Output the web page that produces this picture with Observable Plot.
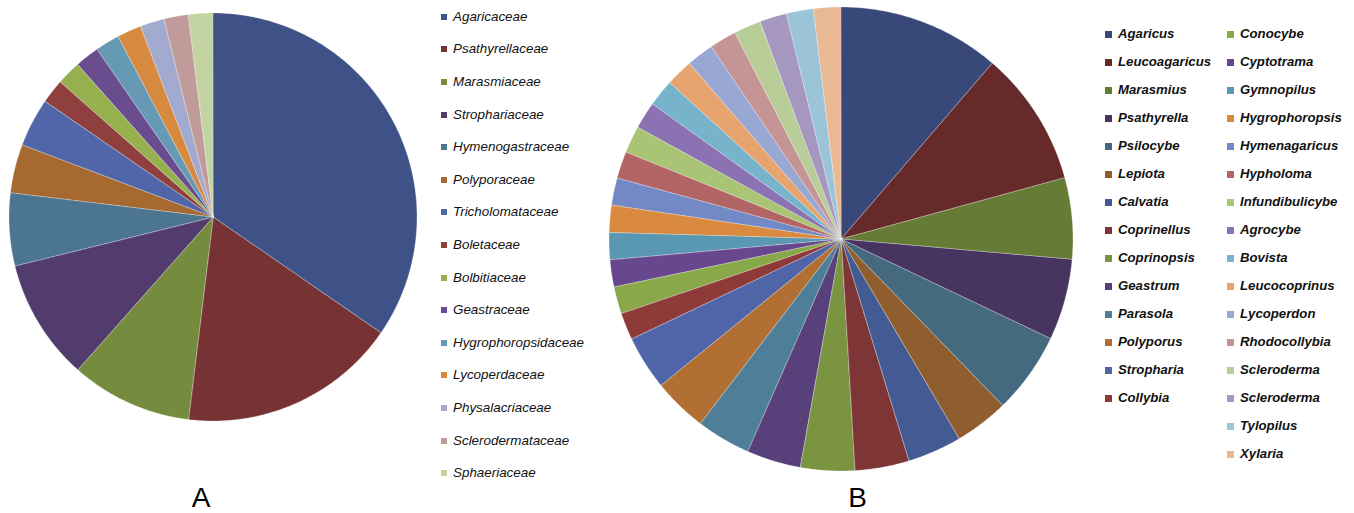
<!DOCTYPE html>
<html><head><meta charset="utf-8">
<script src="https://cdn.jsdelivr.net/npm/d3@7"></script>
<script src="https://cdn.jsdelivr.net/npm/@observablehq/plot@0.6"></script>
<style>
body{margin:0;background:#fff;}
#root{position:relative;width:1354px;height:513px;overflow:hidden;background:#fff;font-family:"Liberation Sans",Arial,sans-serif;}
.pie{position:absolute;}
.row{position:absolute;display:flex;align-items:center;white-space:nowrap;height:16px;line-height:16px;}
.sw{display:inline-block;flex:none;}
.legA{font-style:italic;font-size:13.4px;color:#111;}
.legB{font-style:italic;font-weight:bold;font-size:13.2px;color:#111;}
.lab{position:absolute;font-size:28px;line-height:28px;color:#000;transform:translateX(-50%);}
</style></head><body><div id="root"></div>
<script>
// Panel A: families
const familiesA = ["Agaricaceae","Psathyrellaceae","Marasmiaceae","Strophariaceae","Hymenogastraceae","Polyporaceae","Tricholomataceae","Boletaceae","Bolbitiaceae","Geastraceae","Hygrophoropsidaceae","Lycoperdaceae","Physalacriaceae","Sclerodermataceae","Sphaeriaceae"];
const countsA = [18,9,5,5,3,2,2,1,1,1,1,1,1,1,1];
const colorsA = ["#3f5287","#773334","#758b3d","#523c6e","#4b7590","#a6692f","#5066a8","#8f3f3d","#97b04f","#6a4d8e","#6599b4","#d58a40","#a2aacf","#c09b9a","#c3d4a2"];

// Panel B: genera
const generaB = ["Agaricus","Leucoagaricus","Marasmius","Psathyrella","Psilocybe","Lepiota","Calvatia","Coprinellus","Coprinopsis","Geastrum","Parasola","Polyporus","Stropharia","Collybia","Conocybe","Cyptotrama","Gymnopilus","Hygrophoropsis","Hymenagaricus","Hypholoma","Infundibulicybe","Agrocybe","Bovista","Leucocoprinus","Lycoperdon","Rhodocollybia","Scleroderma","Scleroderma","Tylopilus","Xylaria"];
const countsB = [6,5,3,3,3,2,2,2,2,2,2,2,2,1,1,1,1,1,1,1,1,1,1,1,1,1,1,1,1,1];
const colorsB = ["#384878","#672a2a","#667b35","#473461","#456a7f","#8f5d2e","#445a92","#7e3536","#7a9441","#58417b","#4e7e98","#b26f33","#4f65a8","#8e3a38","#88a84a","#67478e","#5a97b2","#d98a3f","#7389c6","#b26564","#a8c474","#8b72b2","#77b4cc","#e7a46f","#99a7d3","#c49594","#b9cd98","#a697c0","#9bc4d9","#e8b994"];
const legendColumnB = 14; // entries in first legend column

const panelLabels = ["A","B"];

function wedges(names, counts, colors) {
  const arcs = d3.pie().sort(null).value(d => d)(counts);
  const pts = [];
  arcs.forEach((a, i) => {
    const n = Math.max(2, Math.ceil((a.endAngle - a.startAngle) / (Math.PI / 360)));
    for (let k = 0; k <= n; k++) {
      const t = a.startAngle + (a.endAngle - a.startAngle) * k / n;
      pts.push({id: i, name: names[i], color: colors[i], x: Math.sin(t), y: Math.cos(t), cx: 0, cy: 0});
    }
  });
  return pts;
}

function pie(names, counts, colors, size, radius) {
  const ext = size / 2 / radius;
  return Plot.plot({
    width: size, height: size, margin: 0,
    x: {domain: [-ext, ext], axis: null},
    y: {domain: [-ext, ext], axis: null},
    color: {type: "identity"},
    marks: [
      Plot.area(wedges(names, counts, colors), {
        x1: "x", y1: "y", x2: "cx", y2: "cy", z: "id", fill: "color",
        stroke: "#ffffff", strokeOpacity: 0.45, strokeWidth: 0.6
      })
    ]
  });
}

const root = document.getElementById("root");

function place(el, left, top) {
  el.style.left = left + "px"; el.style.top = top + "px"; root.appendChild(el);
  return el;
}

// Pie A: center (213.3, 217.3), radius 204
const pA = pie(familiesA, countsA, colorsA, 420, 204);
pA.classList.add("pie");
place(pA, 213.3 - 210, 217.3 - 210);

// Pie B: center (841, 239), radius 232
const pB = pie(generaB, countsB, colorsB, 476, 232);
pB.classList.add("pie");
place(pB, 841 - 238, 239 - 238);

function legendRow(cls, name, color, left, cy, sw, gap) {
  const r = document.createElement("div");
  r.className = "row " + cls;
  const s = document.createElement("span");
  s.className = "sw";
  s.style.width = sw + "px"; s.style.height = sw + "px"; s.style.background = color; s.style.marginRight = gap + "px";
  const t = document.createElement("span");
  t.textContent = name;
  r.appendChild(s); r.appendChild(t);
  place(r, left, cy - 8);
}

familiesA.forEach((f, i) => legendRow("legA", f, colorsA[i], 441, 16.7 + i * 32.6, 6, 6));

generaB.forEach((g, i) => {
  const col = i < legendColumnB ? 0 : 1;
  const row = col === 0 ? i : i - legendColumnB;
  legendRow("legB", g, colorsB[i], col === 0 ? 1105 : 1227, 34 + row * 28.03, 7, 6);
});

panelLabels.forEach((l, i) => {
  const d = document.createElement("div");
  d.className = "lab"; d.textContent = l;
  place(d, i === 0 ? 201 : 857.5, 483.6);
});
</script>
</body></html>
